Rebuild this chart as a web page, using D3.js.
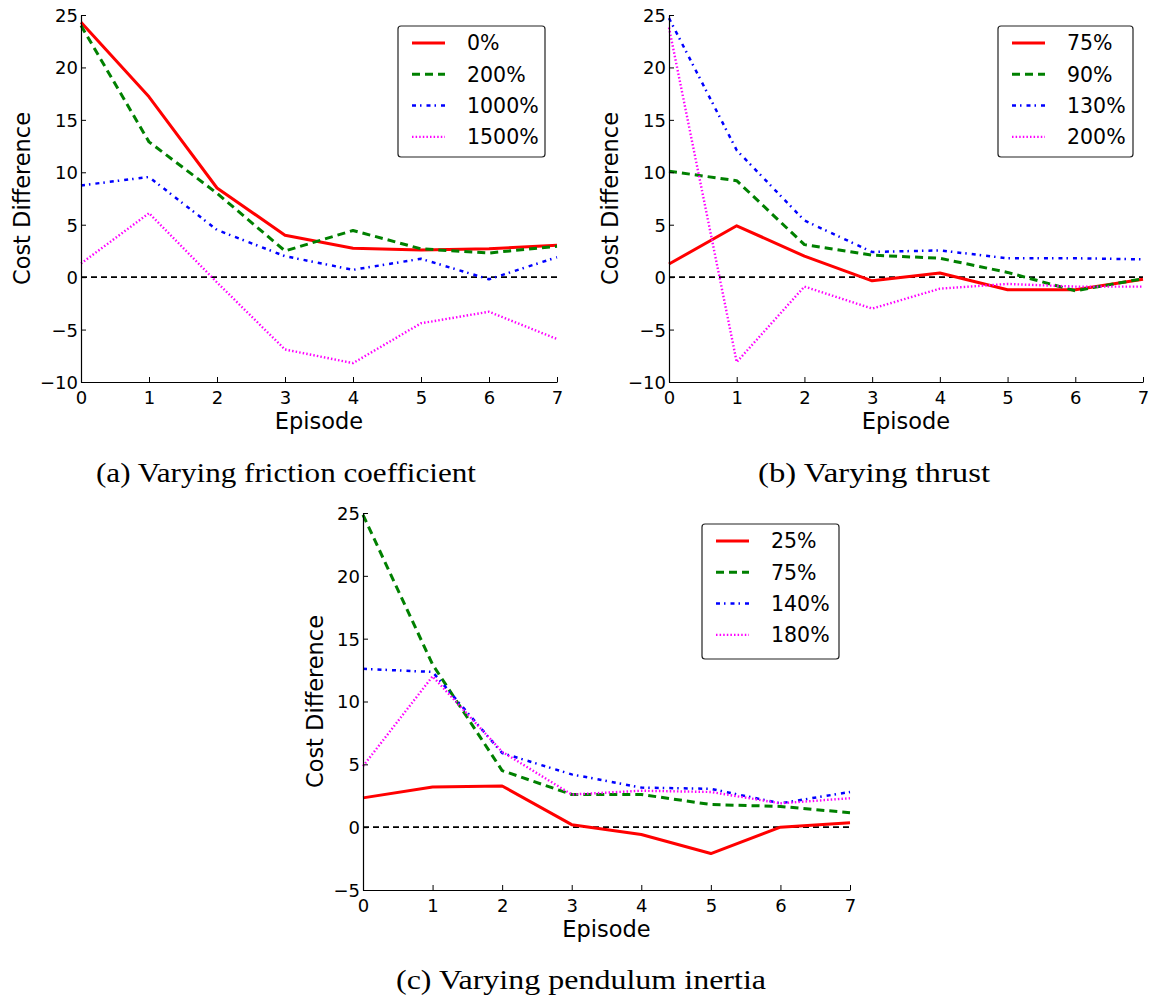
<!DOCTYPE html>
<html><head><meta charset="utf-8">
<script src="https://cdn.jsdelivr.net/npm/d3@7"></script>
<style>body{margin:0;background:#fff}svg{display:block}</style>
</head><body>
<script>
// ---- data ----
const episodes = [0, 1, 2, 3, 4, 5, 6, 7];
const xTicks = [0, 1, 2, 3, 4, 5, 6, 7];
const yTicksAB = [-10, -5, 0, 5, 10, 15, 20, 25];
const yTicksC = [-5, 0, 5, 10, 15, 20, 25];

const frictionLabels = ["0%", "200%", "1000%", "1500%"];
const friction0    = [24.3, 17.2, 8.5, 4.0, 2.75, 2.6, 2.7, 3.05];
const friction200  = [24.0, 12.9, 8.0, 2.5, 4.45, 2.7, 2.3, 2.95];
const friction1000 = [8.75, 9.55, 4.5, 2.0, 0.7, 1.75, -0.2, 1.9];
const friction1500 = [1.3, 6.1, -0.5, -6.9, -8.2, -4.4, -3.3, -5.9];

const thrustLabels = ["75%", "90%", "130%", "200%"];
const thrust75  = [1.25, 4.9, 2.0, -0.35, 0.4, -1.2, -1.2, -0.2];
const thrust90  = [10.1, 9.2, 3.1, 2.1, 1.8, 0.45, -1.3, -0.15];
const thrust130 = [24.7, 12.1, 5.4, 2.4, 2.55, 1.8, 1.8, 1.7];
const thrust200 = [23.8, -8.1, -0.9, -3.0, -1.1, -0.65, -0.9, -0.9];

const inertiaLabels = ["25%", "75%", "140%", "180%"];
const inertia25  = [2.33, 3.2, 3.28, 0.2, -0.58, -2.1, 0.0, 0.35];
const inertia75  = [24.85, 12.95, 4.5, 2.6, 2.6, 1.8, 1.65, 1.15];
const inertia140 = [12.6, 12.35, 5.9, 4.2, 3.15, 3.05, 1.9, 2.8];
const inertia180 = [4.85, 12.0, 6.0, 2.6, 2.9, 2.8, 1.9, 2.3];

const captions = ["(a) Varying friction coefficient", "(b) Varying thrust", "(c) Varying pendulum inertia"];

// ---- styles ----
const styles = [
  {color: "#ff0000", width: 3, dash: null},
  {color: "#008000", width: 3, dash: "8,5"},
  {color: "#0000ff", width: 2.5, dash: "4,4,1.5,5"},
  {color: "#ff00ff", width: 2.4, dash: "1.5,2.1"}
];

const W = 1156, H = 999;
const svg = d3.select("body").append("svg").attr("width", W).attr("height", H);

const fmt = d => d < 0 ? "\u2212" + Math.abs(d) : String(d);

function panel(cfg) {
  const x = d3.scaleLinear().domain([0, 7]).range([cfg.x0, cfg.x1]);
  const y = d3.scaleLinear().domain(cfg.yDomain).range([cfg.y1, cfg.y0]);
  const g = svg.append("g");

  // zero dashed line
  g.append("line")
    .attr("x1", x(0)).attr("x2", x(7)).attr("y1", y(0)).attr("y2", y(0))
    .attr("stroke", "#000").attr("stroke-width", 1.6).attr("stroke-dasharray", "6,4");

  // series
  const line = d3.line().x((d, i) => x(episodes[i])).y(d => y(d));
  cfg.series.forEach((s, i) => {
    const st = styles[i];
    g.append("path").datum(s).attr("d", line)
      .attr("fill", "none").attr("stroke", st.color).attr("stroke-width", st.width)
      .attr("stroke-linejoin", "round")
      .attr("stroke-dasharray", st.dash);
  });

  // axes (only left & bottom, inward ticks)
  const xAxis = d3.axisBottom(x).tickValues(xTicks).tickSizeInner(-5).tickSizeOuter(0).tickPadding(9).tickFormat(fmt);
  const yAxis = d3.axisLeft(y).tickValues(cfg.yTicks).tickSizeInner(-5).tickSizeOuter(0).tickPadding(3).tickFormat(fmt);
  const gx = g.append("g").attr("transform", `translate(0,${cfg.y1})`).call(xAxis);
  const gy = g.append("g").attr("transform", `translate(${cfg.x0},0)`).call(yAxis);
  [gx, gy].forEach(a => {
    a.selectAll("path").attr("stroke", "#000").attr("stroke-width", 1.2);
    a.selectAll("line").attr("stroke", "#000").attr("stroke-width", 1);
    a.selectAll("text").attr("font-family", "DejaVu Sans").attr("font-size", 18).attr("fill", "#000");
  });
  gx.selectAll("text").attr("dy", "0.71em");
  gy.selectAll("text").attr("dy", "0.36em");

  // axis labels
  g.append("text").attr("x", (cfg.x0 + cfg.x1) / 2).attr("y", cfg.y1 + 47)
    .attr("text-anchor", "middle").attr("font-family", "DejaVu Sans").attr("font-size", 22.5)
    .text("Episode");
  g.append("text").attr("transform", `translate(${cfg.x0 - cfg.labOff},${(cfg.y0 + cfg.y1) / 2}) rotate(-90)`)
    .attr("text-anchor", "middle").attr("font-family", "DejaVu Sans").attr("font-size", 22.5)
    .text("Cost Difference");

  // legend
  const L = cfg.legend;
  g.append("rect").attr("x", L.x).attr("y", L.y).attr("width", L.w).attr("height", L.h)
    .attr("rx", 3).attr("fill", "#fff").attr("stroke", "#222").attr("stroke-width", 1.2);
  cfg.labels.forEach((lab, i) => {
    const st = styles[i];
    const ry = L.y + 17 + i * 31.3;
    g.append("line").attr("x1", L.x + 14).attr("x2", L.x + 47).attr("y1", ry).attr("y2", ry)
      .attr("stroke", st.color).attr("stroke-width", st.width).attr("stroke-dasharray", st.dash);
    g.append("text").attr("x", L.x + 69).attr("y", ry).attr("dy", "0.36em")
      .attr("font-family", "DejaVu Sans").attr("font-size", 20.5).text(lab);
  });

  // caption
  svg.append("text").attr("x", cfg.capX).attr("y", cfg.capY).attr("text-anchor", "middle")
    .attr("font-family", "Liberation Serif").attr("font-size", 28)
    .attr("textLength", cfg.capW).attr("lengthAdjust", "spacingAndGlyphs")
    .text(cfg.caption);
}

panel({x0: 81, x1: 557, y0: 15, y1: 382, yDomain: [-10, 25], yTicks: yTicksAB, labOff: 51,
  series: [friction0, friction200, friction1000, friction1500], labels: frictionLabels,
  legend: {x: 398, y: 26, w: 147, h: 131},
  caption: captions[0], capX: 286, capY: 482, capW: 380});

panel({x0: 669, x1: 1143, y0: 15, y1: 382, yDomain: [-10, 25], yTicks: yTicksAB, labOff: 51,
  series: [thrust75, thrust90, thrust130, thrust200], labels: thrustLabels,
  legend: {x: 998, y: 26, w: 135, h: 131},
  caption: captions[1], capX: 874, capY: 482, capW: 232});

panel({x0: 363, x1: 850, y0: 513, y1: 890, yDomain: [-5, 25], yTicks: yTicksC, labOff: 40,
  series: [inertia25, inertia75, inertia140, inertia180], labels: inertiaLabels,
  legend: {x: 702, y: 524, w: 137, h: 135},
  caption: captions[2], capX: 581, capY: 989, capW: 370});
</script>
</body></html>
